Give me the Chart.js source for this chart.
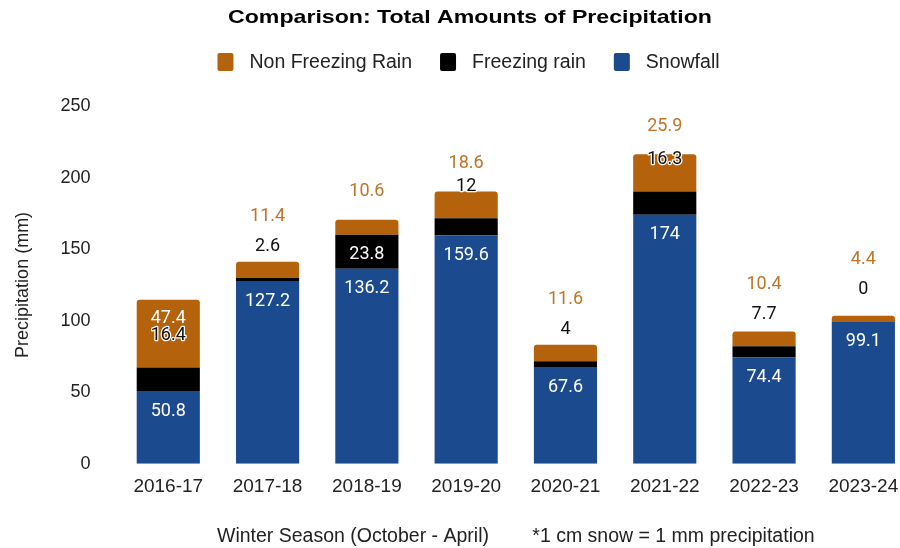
<!DOCTYPE html>
<html><head><meta charset="utf-8">
<script src="https://cdn.jsdelivr.net/npm/chart.js@4/dist/chart.umd.min.js"></script>
<style>
html,body{margin:0;padding:0;background:#fff;overflow:hidden;width:900px;height:548px}
#wrap{width:932px;height:548px;position:relative}
</style></head>
<body><div id="wrap"><canvas id="c"></canvas></div>
<script>
const seasons=['2016-17','2017-18','2018-19','2019-20','2020-21','2021-22','2022-23','2023-24'];
const snowfall=[50.8,127.2,136.2,159.6,67.6,174,74.4,99.1];
const freezingRain=[16.4,2.6,23.8,12,4,16.3,7.7,0];
const nonFreezingRain=[47.4,11.4,10.6,18.6,11.6,25.9,10.4,4.4];
const yTicks=[0,50,100,150,200,250];
const chartTitle='Comparison: Total Amounts of Precipitation';

const BLUE='#1B4A8E', BLACK='#000000', ORANGE='#B5620C', ORANGE_TXT='#BF7428';
const FONT='"Liberation Sans", Arial, sans-serif';

// title + legend drawn at top
const headerPlugin={id:'header',afterDraw(chart){
  const ctx=chart.ctx;
  ctx.save();
  ctx.font='bold 19px '+FONT;
  ctx.textBaseline='middle';ctx.textAlign='center';ctx.fillStyle='#000';
  const tw=ctx.measureText(chartTitle).width;
  ctx.translate(470,18);ctx.scale(484/tw,1);
  ctx.fillText(chartTitle,0,0);
  ctx.setTransform(1,0,0,1,0,0);
  ctx.font='19.5px '+FONT;ctx.textAlign='left';
  const items=chart.data.datasets.slice().reverse().map(d=>({t:d.label,c:d.backgroundColor}));
  const box=16, gapTxt=16, gapItem=28;
  let total=0;
  items.forEach((it,i)=>{it.w=ctx.measureText(it.t).width; total+=box+gapTxt+it.w+(i<items.length-1?gapItem:0);});
  let x=468.5-total/2; const y=62;
  items.forEach(it=>{
    ctx.fillStyle=it.c;
    ctx.beginPath();ctx.roundRect(x,y-9,box,18,2);ctx.fill();
    ctx.fillStyle='#222';ctx.fillText(it.t,x+box+gapTxt,y+1);
    x+=box+gapTxt+it.w+gapItem;
  });
  ctx.restore();
}};

const labelPlugin={id:'vals',afterDatasetsDraw(chart){
  const ctx=chart.ctx;
  const m=[0,1,2].map(i=>chart.getDatasetMeta(i));
  ctx.save();
  ctx.font='18px Roboto';
  ctx.textAlign='center';ctx.textBaseline='middle';
  seasons.forEach((s,i)=>{
    const sn=m[0].data[i], fz=m[1].data[i], nf=m[2].data[i];
    const x=sn.x;
    ctx.fillStyle='#ffffff';
    ctx.fillText(String(snowfall[i]),x,sn.y+20);
    const fzH=fz.base-fz.y; let fzY=null;
    if(fzH>=30){ctx.fillStyle='#ffffff';ctx.fillText(String(freezingRain[i]),x,fz.y+20);}
    else{
      fzY=fz.y-32;
      ctx.lineWidth=2.5;ctx.strokeStyle='#ffffff';ctx.lineJoin='round';
      ctx.strokeText(String(freezingRain[i]),x,fzY);
      ctx.fillStyle='#111111';ctx.fillText(String(freezingRain[i]),x,fzY);
    }
    const nfH=nf.base-nf.y;
    if(nfH>=50){ctx.fillStyle='#ffffff';ctx.fillText(String(nonFreezingRain[i]),x,nf.y+19);}
    else{
      let y=nf.y-28;
      if(fzY!==null && Math.abs(y-fzY)<20) y=fzY-30;
      ctx.fillStyle=ORANGE_TXT;ctx.fillText(String(nonFreezingRain[i]),x,y);
    }
  });
  ctx.restore();
}};

new Chart(document.getElementById('c'),{
  type:'bar',
  data:{labels:seasons,datasets:[
    {label:'Snowfall',data:snowfall,backgroundColor:BLUE,borderWidth:0},
    {label:'Freezing rain',data:freezingRain,backgroundColor:BLACK,borderWidth:0},
    {label:'Non Freezing Rain',data:nonFreezingRain,backgroundColor:ORANGE,borderWidth:0,borderRadius:{topLeft:3,topRight:3,bottomLeft:0,bottomRight:0},borderSkipped:false}
  ]},
  options:{
    responsive:true,maintainAspectRatio:false,animation:false,
    layout:{padding:{left:12,right:19,top:106,bottom:0}},
    datasets:{bar:{categoryPercentage:1,barPercentage:0.636}},
    plugins:{
      title:{display:false},
      legend:{display:false},
      tooltip:{enabled:false}
    },
    scales:{
      x:{stacked:true,grid:{display:false},border:{display:false},
        ticks:{color:'#222',font:{family:FONT,size:19},padding:4,maxRotation:0},
        title:{display:true,text:'Winter Season (October - April)        *1 cm snow = 1 mm precipitation',color:'#222',font:{family:FONT,size:19.5},padding:{top:22,bottom:0}}},
      y:{stacked:true,min:0,max:250,grid:{display:false},border:{display:false},
        afterBuildTicks(sc){sc.ticks=yTicks.map(v=>({value:v}));},
        ticks:{color:'#222',font:{family:FONT,size:18},padding:20},
        title:{display:true,text:'Precipitation (mm)',color:'#222',font:{family:FONT,size:18},padding:{top:0,bottom:7}}}
    }
  },
  plugins:[labelPlugin,headerPlugin]
});
</script></body></html>
